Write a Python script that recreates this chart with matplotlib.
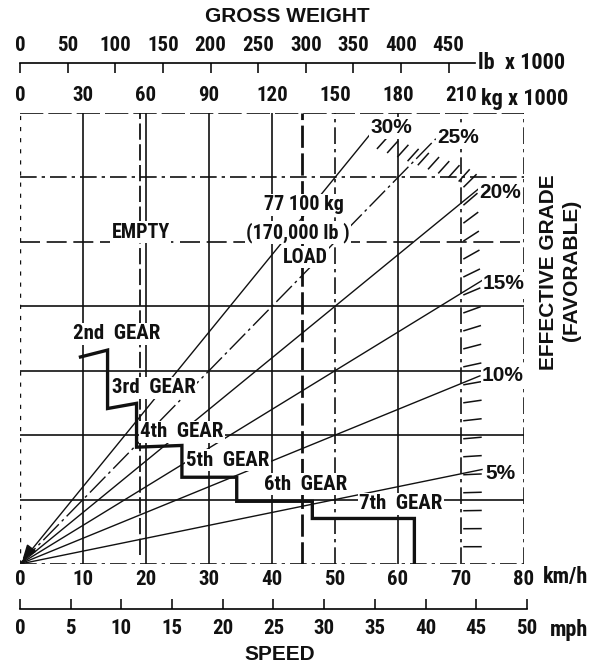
import numpy as np
import matplotlib.pyplot as plt

plt.rcParams['font.family'] = ['Roboto Condensed', 'DejaVu Sans']
plt.rcParams['font.stretch'] = 'condensed'
plt.rcParams['font.weight'] = 'bold'

# gross weight in tonnes (kg x 1000); speed runs under it, 10 km/h = 30 t
kg_ticks = [0, 30, 60, 90, 120, 150, 180, 210]
lb_ticks = [0, 50, 100, 150, 200, 250, 300, 350, 400, 450]
kmh_ticks = [0, 10, 20, 30, 40, 50, 60, 70, 80]
mph_ticks = [0, 5, 10, 15, 20, 25, 30, 35, 40, 45, 50]

# effective grade lines (%) and the gross weight (t) where each one stops
grades = [5, 10, 15, 20, 25, 30]
grade_end_t = [220, 219, 220, 218, 198, 169]

# retarding force grid (t)
force_grid = [7.5, 15, 22.5, 30, 37.5, 45]

empty_t = 57.0
load_t = 77.1

# edge of the hatched limit zone
limit_t = [168, 210, 210]
limit_f = [48.6, 44.5, 1.6]

# retarder performance through the gears
gear_kmh = [9.6, 13.9, 13.9, 18.5, 18.5, 25.7, 25.7, 34.4, 34.4, 46.4, 46.4, 62.6, 62.6]
gear_force = [24.1, 24.9, 18.1, 18.7, 13.6, 13.8, 10.1, 10.1, 7.3, 7.3, 5.3, 5.3, 0]

W, H = 599, 668
LEFT, RIGHT, TOP, BOTTOM = 20, 524, 113, 564
T_MAX, F_MAX = 240, 52.5
T_PER_KMH = 3.0
T_PER_KLB = 0.45359237
KMH_PER_MPH = 1.609344
LB_Y, MPH_Y = 63, 609
INK = '#111111'
DASHDOT = (0, (10, 3, 2, 3))
TICK_SIZE = 15
UNIT_SIZE = 16


def fx(px):
    return px / W


def fy(py):
    return 1 - py / H


fig = plt.figure(figsize=(W / 100, H / 100), dpi=100)
ax = fig.add_axes([fx(LEFT), fy(BOTTOM), (RIGHT - LEFT) / W, (BOTTOM - TOP) / H])
ax.set_xlim(0, T_MAX)
ax.set_ylim(0, F_MAX)
for s in ax.spines.values():
    s.set_visible(False)
ax.set_yticks([])
ax.xaxis.tick_top()
ax.set_xticks(kg_ticks)
ax.tick_params(axis='x', length=0, pad=6, labelsize=TICK_SIZE, colors=INK)

# frame
ax.plot([0, T_MAX], [F_MAX, F_MAX], color=INK, lw=1.2, ls=(0, (14, 3)))
ax.plot([0, T_MAX], [0, 0], color=INK, lw=1.2, ls=DASHDOT)
ax.plot([0, 0], [0, F_MAX], color=INK, lw=1.0, ls=(0, (3, 5)))
ax.plot([T_MAX, T_MAX], [0, F_MAX], color=INK, lw=1.2, ls=DASHDOT)

# grid
for t in kg_ticks[1:]:
    ls = DASHDOT if t in (150, 210) else '-'
    ax.plot([t, t], [0, F_MAX], color=INK, lw=1.2, ls=ls, zorder=1)
for f in force_grid:
    ls = {37.5: (0, (12, 4)), 45: DASHDOT}.get(f, '-')
    ax.plot([0, T_MAX], [f, f], color=INK, lw=1.2, ls=ls, zorder=1)

# grade lines from the origin
for g, te in zip(grades, grade_end_t):
    ls = (0, (16, 3, 2, 3)) if g == 25 else '-'
    ax.plot([0, te], [0, te * g / 100], color=INK, lw=1.0, ls=ls, zorder=2)
ax.annotate('', xy=(0.3, 0.2), xytext=(6, 2.0),
            arrowprops=dict(arrowstyle='-|>,head_length=0.9,head_width=0.35',
                            color=INK, lw=1.2))

# empty and loaded weight
ax.plot([empty_t, empty_t], [1.0, F_MAX], color=INK, lw=1.3, ls=(0, (9, 2.5)), zorder=2)
gross_t = empty_t + load_t
ax.plot([gross_t, gross_t], [0, F_MAX], color=INK, lw=2.0, ls=(0, (8, 2)), zorder=2)

# hatched limit zone
sx = (RIGHT - LEFT) / T_MAX
sy = (BOTTOM - TOP) / F_MAX
pts = np.column_stack([np.array(limit_t) * sx, np.array(limit_f) * sy])
strokes = []
for (x0, y0), (x1, y1) in zip(pts[:-1], pts[1:]):
    seg = np.hypot(x1 - x0, y1 - y0)
    vertical = abs(x1 - x0) < 1e-6
    step = 18 if vertical else 11
    s = 5.0
    while s < seg:
        px_, py_ = x0 + (x1 - x0) * s / seg, y0 + (y1 - y0) * s / seg
        if vertical:
            a = np.radians(45 * (py_ / sy / 44) ** 2)
            sx0 = px_ + 3
            L = 17
        else:
            a = np.radians(48)
            sx0 = px_
            L = 15
        strokes.append(([sx0 / sx, (sx0 + L * np.cos(a)) / sx],
                        [py_ / sy, (py_ + L * np.sin(a)) / sy]))
        s += step
for xs, ys in strokes:
    ax.plot(xs, ys, color=INK, lw=1.1, zorder=2, clip_on=False)

# retarder curve
ax.plot(np.array(gear_kmh) * T_PER_KMH, gear_force, color=INK, lw=2.4,
        solid_joinstyle='miter', zorder=5)

box = dict(fc='white', ec='none', pad=1.0)


def label(t, f, s, size=15, **kw):
    ax.text(t, f, s, ha='center', va='center', fontsize=size, color=INK,
            bbox=box, zorder=3, **kw)


label(46.2, 26.8, '2nd  GEAR')
label(63.8, 20.5, '3rd  GEAR')
label(77.1, 15.4, '4th  GEAR')
label(99.0, 12.1, '5th  GEAR')
label(136.2, 9.3, '6th  GEAR')
label(181.4, 7.0, '7th  GEAR')
label(57.6, 38.6, 'EMPTY', 14.5)
label(135.2, 41.8, '77 100 kg', 14.5)
label(132.4, 38.6, '(170,000 lb )', 14.5)
label(135.7, 35.7, 'LOAD', 14.5)
pct_font = ['Liberation Sans', 'DejaVu Sans']
for g, (t, f) in zip(grades, [(229, 10.5), (230, 22), (230.5, 32.7),
                              (228.6, 43.3), (208.6, 49.6), (176.7, 50.8)]):
    label(t, f, f'{g}%', 15, family=pct_font, stretch='normal')

# speed scale in km/h
sec = ax.secondary_xaxis('bottom', functions=(lambda t: t / T_PER_KMH,
                                               lambda v: v * T_PER_KMH))
sec.set_xticks(kmh_ticks)
sec.tick_params(length=0, pad=4, labelsize=TICK_SIZE, colors=INK)
sec.spines['bottom'].set_visible(False)
fig.text(fx(543), fy(577), 'km/h', ha='left', va='center', fontsize=UNIT_SIZE, color=INK)

# gross weight in lb
lb_max = T_MAX / T_PER_KLB
ax_lb = fig.add_axes([fx(LEFT), fy(LB_Y), (RIGHT - LEFT) / W, 0.0001])
ax_lb.set_xlim(0, lb_max)
ax_lb.patch.set_visible(False)
for k in ('left', 'right', 'bottom'):
    ax_lb.spines[k].set_visible(False)
ax_lb.spines['top'].set_bounds(0, 478)
ax_lb.spines['top'].set_linewidth(1.2)
ax_lb.set_yticks([])
ax_lb.xaxis.tick_top()
ax_lb.set_xticks(lb_ticks)
ax_lb.tick_params(axis='x', direction='in', length=7, width=1.2, pad=6,
                  labelsize=TICK_SIZE, colors=INK)
fig.text(fx(478), fy(LB_Y), 'lb  x 1000', ha='left', va='center', fontsize=UNIT_SIZE, color=INK)
fig.text(fx(481), fy(99), 'kg x 1000', ha='left', va='center', fontsize=UNIT_SIZE, color=INK)

# speed in mph
mph_max = 52.0
mph_px = mph_max * KMH_PER_MPH * (RIGHT - LEFT) / 80
ax_mph = fig.add_axes([fx(LEFT), fy(MPH_Y), mph_px / W, 0.0001])
ax_mph.set_xlim(0, mph_max)
ax_mph.patch.set_visible(False)
for k in ('left', 'right', 'top'):
    ax_mph.spines[k].set_visible(False)
ax_mph.spines['bottom'].set_bounds(0, 50)
ax_mph.spines['bottom'].set_linewidth(1.2)
ax_mph.set_yticks([])
ax_mph.set_xticks(mph_ticks)
ax_mph.tick_params(axis='x', direction='in', length=7, width=1.2, pad=7,
                   labelsize=TICK_SIZE, colors=INK)
fig.text(fx(550), fy(630), 'mph', ha='left', va='center', fontsize=UNIT_SIZE, color=INK)

title_font = ['Liberation Sans', 'DejaVu Sans']
title_kw = dict(ha='center', va='center', fontsize=15, family=title_font,
                stretch='normal', color=INK)
fig.text(fx(287), fy(17), 'GROSS WEIGHT', **title_kw)
fig.text(fx(280), fy(655), 'SPEED', **title_kw)
fig.text(fx(548), fy(272), 'EFFECTIVE GRADE', rotation=90, **title_kw)
fig.text(fx(571), fy(270), '(FAVORABLE)', rotation=90, **title_kw)

fig.savefig('out.png', dpi=100)
